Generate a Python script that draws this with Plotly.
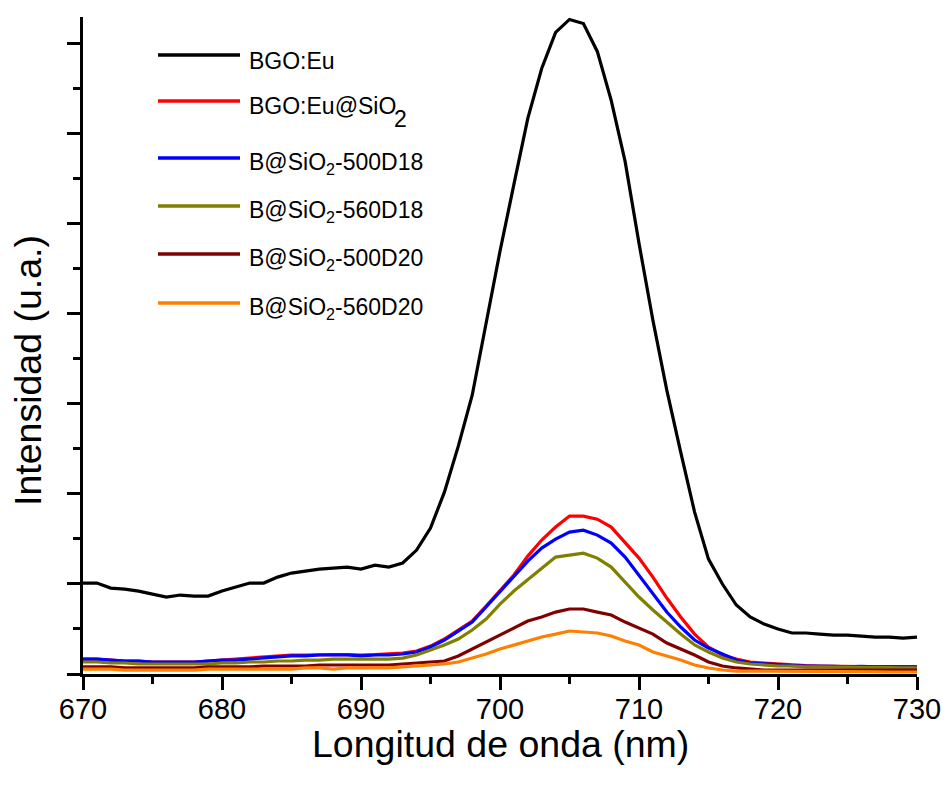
import plotly.graph_objects as go

wavelength = list(range(670, 731))

bgo_eu = [1009, 1009, 953, 942, 920, 887, 854, 876, 865, 865,
          920, 965, 1009, 1009, 1075, 1120, 1142, 1164, 1175, 1186,
          1164, 1208, 1186, 1231, 1375, 1619, 2018, 2528, 3093, 3914,
          4690, 5432, 6164, 6718, 7118, 7262, 7217, 6907, 6364, 5687,
          4778, 3925, 3149, 2461, 1796, 1275, 998, 765, 632, 554,
          499, 455, 455, 443, 432, 432, 421, 410, 410, 399, 410]

bgo_eu_sio2 = [166, 166, 155, 144, 144, 133, 133, 133, 133, 144,
               155, 160, 170, 182, 195, 211, 211, 216, 216, 216,
               211, 216, 222, 233, 255, 310, 388, 488, 588, 754,
               920, 1098, 1308, 1486, 1630, 1752, 1752, 1718, 1630, 1463,
               1286, 1075, 843, 632, 443, 299, 211, 166, 133, 122,
               111, 100, 94, 89, 85, 85, 82, 82, 80, 80, 78]

b500d18 = [166, 166, 155, 144, 144, 133, 133, 133, 133, 144,
           155, 155, 166, 177, 188, 200, 200, 211, 211, 211,
           200, 211, 211, 222, 244, 299, 377, 477, 576, 743,
           909, 1075, 1253, 1397, 1497, 1574, 1596, 1541, 1452, 1297,
           1098, 898, 687, 521, 377, 288, 222, 155, 122, 111,
           100, 94, 89, 89, 85, 80, 85, 80, 80, 80, 78]

b560d18 = [133, 133, 122, 122, 111, 111, 111, 111, 111, 111,
           122, 122, 133, 133, 144, 144, 155, 155, 166, 166,
           166, 166, 166, 177, 211, 266, 322, 388, 488, 610,
           776, 920, 1042, 1175, 1297, 1319, 1341, 1286, 1186, 1020,
           854, 710, 576, 443, 322, 244, 177, 133, 111, 100,
           89, 89, 78, 78, 78, 75, 72, 72, 70, 67, 67]

b500d20 = [78, 78, 78, 67, 67, 67, 67, 67, 67, 78,
           78, 78, 78, 89, 89, 89, 89, 100, 100, 100,
           100, 100, 100, 111, 122, 133, 144, 200, 277, 355,
           432, 510, 588, 632, 687, 721, 721, 687, 654, 576,
           510, 443, 344, 277, 211, 133, 89, 67, 55, 44,
           44, 44, 44, 44, 44, 44, 44, 44, 44, 44, 44]

b560d20 = [55, 55, 55, 44, 44, 44, 44, 44, 44, 55,
           55, 55, 55, 55, 55, 55, 67, 67, 55, 67,
           67, 67, 67, 78, 89, 100, 111, 133, 177, 222,
           277, 322, 366, 410, 443, 477, 466, 455, 421, 366,
           322, 244, 200, 155, 100, 67, 44, 33, 33, 33,
           33, 30, 30, 28, 28, 25, 25, 25, 22, 22, 22]

series_names = ["BGO:Eu", "BGO:Eu@SiO2", "B@SiO2-500D18",
                "B@SiO2-560D18", "B@SiO2-500D20", "B@SiO2-560D20"]
legend_labels = ["BGO:Eu",
                 "BGO:Eu@SiO",
                 "B@SiO<sub>2</sub>-500D18",
                 "B@SiO<sub>2</sub>-560D18",
                 "B@SiO<sub>2</sub>-500D20",
                 "B@SiO<sub>2</sub>-560D20"]
series_values = [bgo_eu, bgo_eu_sio2, b500d18, b560d18, b500d20, b560d20]
colors = ["#000000", "#FF0000", "#0000FF", "#808000", "#800000", "#FF8000"]

x_title = "Longitud de onda (nm)"
y_title = "Intensidad (u.a.)"
x_ticks = [670, 680, 690, 700, 710, 720, 730]

W, H = 946, 787
L, R, T, B = 83, 917, 17, 674          # plot area in window pixels
FONT = "Arial, Liberation Sans, sans-serif"

fig = go.Figure()
for name, vals, col in zip(series_names, series_values, colors):
    fig.add_trace(go.Scatter(x=wavelength, y=vals, mode="lines", name=name,
                             line=dict(color=col, width=3.2), showlegend=False))

def px(xp):
    return (xp - L) / (R - L)

def py(yp):
    return (B - yp) / (B - T)

# manual legend (long line samples)
line_y = [55, 101, 158, 206, 254, 303]
text_y = [61, 106, 163, 211, 259, 308]
for lab, col, ly, ty in zip(legend_labels, colors, line_y, text_y):
    fig.add_shape(type="line", xref="paper", yref="paper",
                  x0=px(158), x1=px(240), y0=py(ly), y1=py(ly),
                  line=dict(color=col, width=3.3))
    fig.add_annotation(xref="paper", yref="paper", x=px(247), y=py(ty),
                       text=lab, showarrow=False, xanchor="left", yanchor="middle",
                       font=dict(family=FONT, size=23, color="black"))
# large, lowered subscript of the second legend entry
fig.add_annotation(xref="paper", yref="paper", x=px(392), y=py(119),
                   text="2", showarrow=False, xanchor="left", yanchor="middle",
                   font=dict(family=FONT, size=23, color="black"))

# axis titles
fig.add_annotation(xref="paper", yref="paper", x=px(500), y=py(744),
                   text=x_title, showarrow=False, xanchor="center", yanchor="middle",
                   font=dict(family=FONT, size=37.5, color="black"))
fig.add_annotation(xref="paper", yref="paper", x=px(28), y=py(371),
                   text=y_title, showarrow=False, xanchor="center", yanchor="middle",
                   textangle=-90,
                   font=dict(family=FONT, size=37.5, color="black"))

fig.update_layout(
    width=W, height=H,
    margin=dict(l=L, r=W - R, t=T, b=H - B, autoexpand=False),
    paper_bgcolor="white", plot_bgcolor="white",
    font=dict(family=FONT, color="black"),
    showlegend=False,
)
fig.update_xaxes(
    range=[670, 730], tickvals=x_ticks, ticktext=[str(v) for v in x_ticks],
    showline=True, linewidth=3, linecolor="black", mirror=False,
    ticks="outside", ticklen=13, tickwidth=3, tickcolor="black",
    minor=dict(dtick=5, tick0=670, ticks="outside", ticklen=7, tickwidth=3, tickcolor="black"),
    showgrid=False, zeroline=False,
    ticklabelstandoff=-6, ticklabeloverflow="allow",
    tickfont=dict(family=FONT, size=29, color="black"),
)
fig.update_yaxes(
    range=[0, 7289], dtick=1000, tick0=0, showticklabels=False,
    showline=True, linewidth=3, linecolor="black", mirror=False,
    ticks="outside", ticklen=13, tickwidth=3, tickcolor="black",
    minor=dict(dtick=500, tick0=0, ticks="outside", ticklen=7, tickwidth=3, tickcolor="black"),
    showgrid=False, zeroline=False,
)

fig.write_html(
    "out.html",
    config={"displayModeBar": False},
    post_script="document.body.style.margin='0';"
                "document.documentElement.style.overflow='hidden';",
)
